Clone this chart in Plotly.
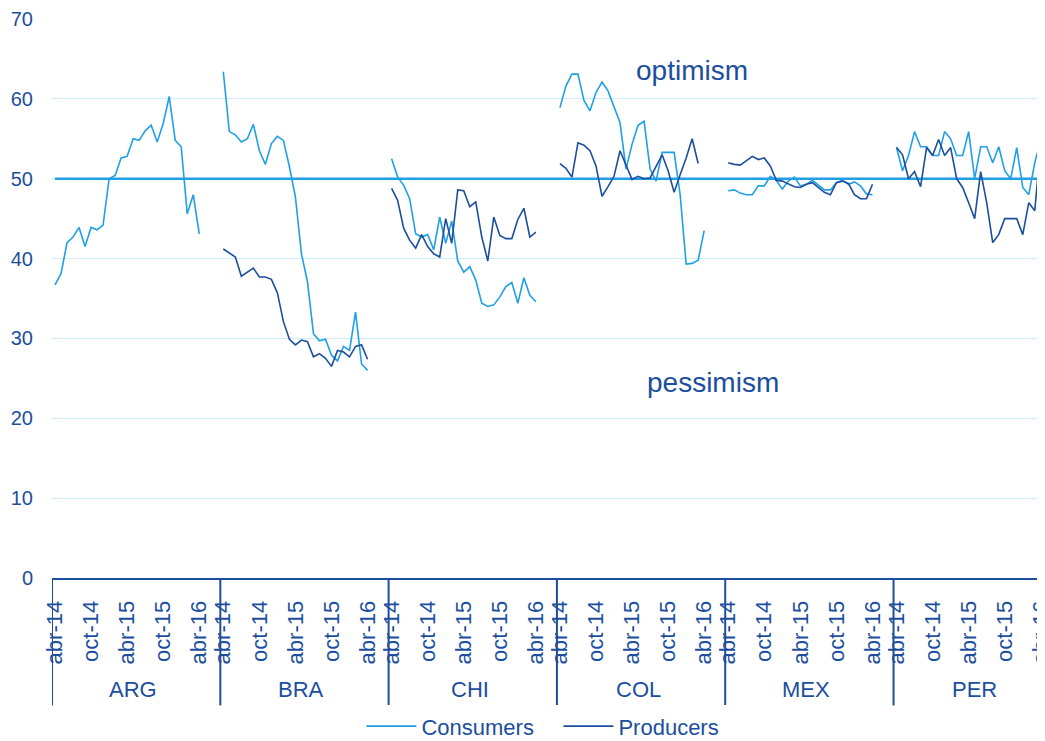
import plotly.graph_objects as go

LIGHT = "rgb(31, 160, 230)"
DARK = "rgb(28, 78, 158)"
GRID = "rgb(205, 235, 250)"
FONT_FAMILY = "Arial, Liberation Sans, sans-serif"

countries = ["ARG", "BRA", "CHI", "COL", "MEX", "PER"]
months = ["abr-14", "may-14", "jun-14", "jul-14", "ago-14", "sep-14", "oct-14",
          "nov-14", "dic-14", "ene-15", "feb-15", "mar-15", "abr-15", "may-15",
          "jun-15", "jul-15", "ago-15", "sep-15", "oct-15", "nov-15", "dic-15",
          "ene-16", "feb-16", "mar-16", "abr-16", "may-16", "jun-16", "jul-16"]
tick_months = [0, 6, 12, 18, 24]

# consumers confidence, abr-14 .. abr-16
cons_arg = [36.7, 38.1, 42.0, 42.7, 43.9, 41.5, 43.9, 43.6, 44.2, 50.0, 50.4, 52.6, 52.8,
            55.0, 54.8, 56.0, 56.7, 54.6, 56.9, 60.3, 54.8, 54.0, 45.6, 48.0, 43.1]
cons_bra = [63.4, 55.9, 55.5, 54.6, 55.0, 56.8, 53.5, 51.8, 54.4, 55.3, 54.8, 51.5, 47.7,
            40.6, 37.1, 30.6, 29.7, 29.9, 27.9, 27.2, 29.0, 28.5, 33.3, 26.8, 26.0]
cons_chi = [52.5, 50.2, 49.2, 47.5, 43.1, 42.7, 43.0, 41.1, 45.2, 41.9, 44.7, 39.7, 38.3,
            39.0, 37.3, 34.4, 34.0, 34.2, 35.2, 36.5, 37.0, 34.4, 37.6, 35.4, 34.6]
cons_col = [58.9, 61.6, 63.1, 63.1, 59.8, 58.5, 60.8, 62.1, 61.0, 59.1, 57.0, 51.2, 54.3,
            56.7, 57.2, 51.2, 49.7, 53.3, 53.3, 53.3, 48.0, 39.3, 39.4, 39.8, 43.5]
cons_mex = [48.5, 48.6, 48.2, 48.0, 48.0, 49.1, 49.1, 50.3, 49.8, 48.7, 49.7, 50.2, 49.1,
            49.3, 49.8, 49.2, 48.6, 48.6, 49.5, 49.8, 49.3, 49.6, 49.1, 48.1, 48.0]
cons_per = [53.9, 51.0, 52.9, 55.9, 54.0, 54.0, 52.9, 52.9, 55.9, 55.0, 52.9, 52.9, 55.9,
            50.0, 54.0, 54.0, 52.0, 54.0, 51.0, 50.0, 53.9, 48.9, 48.0, 52.0, 54.9]

# producers confidence
prod_arg = []
prod_bra = [41.2, 40.7, 40.2, 37.8, 38.3, 38.8, 37.7, 37.7, 37.4, 35.7, 32.1, 29.9, 29.2,
            29.8, 29.6, 27.7, 28.1, 27.5, 26.5, 28.5, 28.3, 27.7, 29.0, 29.2, 27.4]
prod_chi = [48.8, 47.3, 43.8, 42.3, 41.3, 43.0, 41.5, 40.6, 40.2, 45.0, 41.9, 48.6, 48.5,
            46.5, 47.1, 42.7, 39.7, 45.2, 42.9, 42.5, 42.5, 44.9, 46.3, 42.7, 43.3]
prod_col = [51.9, 51.3, 50.2, 54.5, 54.2, 53.5, 51.6, 47.8, 49.0, 50.3, 53.5, 51.8, 49.9,
            50.3, 50.0, 50.1, 51.5, 53.0, 51.0, 48.3, 50.5, 52.6, 55.0, 51.9]
prod_mex = [52.0, 51.8, 51.7, 52.3, 52.8, 52.4, 52.6, 51.6, 49.8, 49.7, 49.4, 49.0, 48.9,
            49.3, 49.5, 48.9, 48.3, 48.0, 49.5, 49.7, 49.4, 48.0, 47.5, 47.5, 49.3]
prod_per = [53.9, 53.0, 50.0, 50.9, 49.0, 53.9, 52.9, 54.9, 52.9, 53.9, 50.0, 48.9, 47.0,
            45.0, 50.9, 47.0, 42.0, 43.0, 45.0, 45.0, 45.0, 43.0, 47.0, 46.0, 54.3]

consumers = [cons_arg, cons_bra, cons_chi, cons_col, cons_mex, cons_per]
producers = [prod_arg, prod_bra, prod_chi, prod_col, prod_mex, prod_per]

N = len(months)


def flatten(groups):
    xs, ys = [], []
    for g, vals in enumerate(groups):
        for m, v in enumerate(vals):
            xs.append(g * N + m)
            ys.append(v)
        xs.append(None)
        ys.append(None)
    return xs, ys


fig = go.Figure()
x, y = flatten(consumers)
fig.add_trace(go.Scatter(x=x, y=y, name="Consumers", mode="lines",
                         line=dict(color=LIGHT, width=1.6)))
x, y = flatten(producers)
fig.add_trace(go.Scatter(x=x, y=y, name="Producers", mode="lines",
                         line=dict(color=DARK, width=1.6)))

x_max = 164.7

# neutral line
fig.add_shape(type="line", xref="x", yref="y", x0=0, x1=x_max, y0=50, y1=50,
              line=dict(color=LIGHT, width=2.5), layer="between")

# group separators and labels
for g, c in enumerate(countries):
    fig.add_shape(type="line", xref="x", yref="paper", x0=g * N - 0.5, x1=g * N - 0.5,
                  y0=0, y1=-0.228, line=dict(color=DARK, width=2), opacity=1,
                  layer="above")
    fig.add_annotation(x=g * N + (N - 1) / 2 - 0.5, y=-0.2, xref="x", yref="paper",
                       text=c, showarrow=False, font=dict(size=22, color=DARK),
                       yanchor="middle")

fig.add_annotation(x=106, y=63.5, text="optimism", showarrow=False,
                   font=dict(size=28, color=DARK))
fig.add_annotation(x=109.5, y=24.5, text="pessimism", showarrow=False,
                   font=dict(size=28, color=DARK))

fig.update_layout(
    width=1037,
    height=733,
    margin=dict(l=44, r=0, t=11, b=163),
    font=dict(family=FONT_FAMILY, size=20, color=DARK),
    plot_bgcolor="white",
    paper_bgcolor="white",
    legend=dict(orientation="h", yref="container", yanchor="middle", y=0.02,
                xanchor="center", x=0.51,
                font=dict(size=22, color=DARK), itemwidth=50, entrywidth=132),
)
fig.update_xaxes(
    range=[-0.5, x_max],
    tickvals=[g * N + m for g in range(len(countries)) for m in tick_months],
    ticktext=[months[m] for g in range(len(countries)) for m in tick_months],
    tickangle=-90,
    ticks="",
    ticklabelstandoff=12,
    ticklabeloverflow="allow",
    showline=True, linecolor=DARK, linewidth=2,
    showgrid=False, zeroline=False, automargin=False,
    tickfont=dict(size=22, color=DARK),
)
fig.update_yaxes(
    range=[0, 70],
    dtick=10,
    showgrid=True, gridcolor=GRID, gridwidth=1,
    showline=False, ticks="", zeroline=False, automargin=False,
    tickfont=dict(size=20, color=DARK),
    ticklabelstandoff=18,
)

fig.write_html("out.html")
